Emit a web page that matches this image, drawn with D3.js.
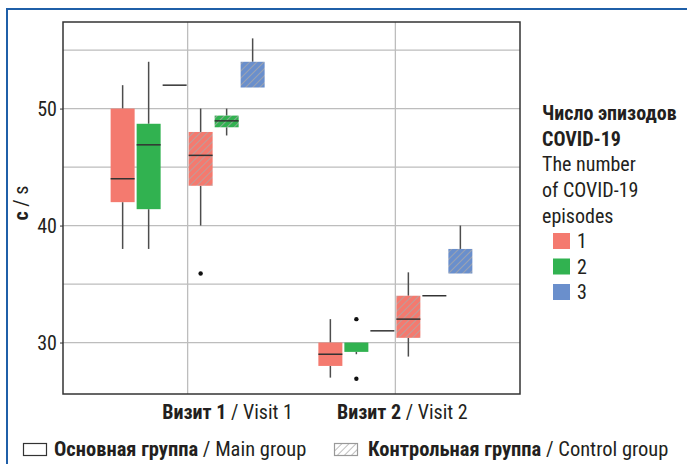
<!DOCTYPE html>
<html>
<head>
<meta charset="utf-8">
<script src="https://cdn.jsdelivr.net/npm/d3@7"></script>
<style>
  body { margin: 0; background: #fff; }
  svg text { font-family: "Roboto Condensed", "Liberation Sans", sans-serif; fill: #231f20; }
</style>
</head>
<body>
<div id="chart"></div>
<script>
// categories
const visitsRu = ["Визит 1", "Визит 2"];
const visitsEn = ["Visit 1", "Visit 2"];
const episodes = ["1", "2", "3"];
const groups = ["main", "control"];
// box order inside each visit: main 1,2,3 then control 1,2,3
const boxGroup = ["main", "main", "main", "control", "control", "control"];
const boxEpisode = ["1", "2", "3", "1", "2", "3"];

// box statistics, visit 1
const v1Low  = [38, 38, 52, 40, 47.7, 51.8];
const v1Q1   = [42, 41.4, 52, 43.4, 48.4, 51.8];
const v1Med  = [44, 46.9, 52, 46, 48.95, 51.8];
const v1Q3   = [50, 48.7, 52, 48, 49.4, 54];
const v1High = [52, 54, 52, 50, 50, 56];
const v1Out  = [[], [], [], [35.9], [], []];

// box statistics, visit 2
const v2Low  = [27, 29, 31, 28.8, 34, 35.9];
const v2Q1   = [28, 29.2, 31, 30.4, 34, 35.9];
const v2Med  = [29, 30, 31, 32, 34, 35.9];
const v2Q3   = [30, 30, 31, 34, 34, 38];
const v2High = [32, 30, 31, 36, 34, 40];
const v2Out  = [[], [32, 26.9], [], [], [], []];

// axis
const yTicks = [30, 40, 50];
const yGrid = [30, 35, 40, 45, 50, 55];
const yDomain = [25.6, 57.4];

const colors = { "1": "#f47a6f", "2": "#31b250", "3": "#6a8fcc" };

const width = 687, height = 464;
const margin = { left: 63, top: 22, right: 167, bottom: 70 };
const fs = "20px";

const svg = d3.select("#chart").append("svg")
    .attr("width", width)
    .attr("height", height);

const defs = svg.append("defs");
//hatch pattern for each colour, plus a white one for the legend key
function hatch(id, fill) {
    const p = defs.append("pattern")
        .attr("id", id)
        .attr("patternUnits", "userSpaceOnUse")
        .attr("width", 5).attr("height", 5)
        .attr("patternTransform", "rotate(45)");
    p.append("rect").attr("width", 5).attr("height", 5).attr("fill", fill);
    p.append("line").attr("x1", 0).attr("y1", 0).attr("x2", 0).attr("y2", 5)
        .attr("stroke", "#a9a9a9").attr("stroke-width", 1.5);
}
episodes.forEach(e => hatch("hatch" + e, colors[e]));
hatch("hatchKey", "#fff");

//blue frame of the figure
svg.append("path")
    .attr("d", "M7,464 L7,9 L687,9")
    .attr("fill", "none")
    .attr("stroke", "#1f5fa8")
    .attr("stroke-width", 2);

const x = d3.scalePoint()
    .domain(visitsEn)
    .range([margin.left, width - margin.right])
    .padding(0.6);

const slot = 26;
const dodge = d3.scaleLinear().domain([0, 5]).range([-2.5 * slot, 2.5 * slot]);
const boxW = 24;

const y = d3.scaleLinear()
    .domain(yDomain)
    .range([height - margin.bottom, margin.top]);

const plot = svg.append("g");

// grid
plot.selectAll(".hgrid").data(yGrid).enter().append("line")
    .attr("x1", margin.left).attr("x2", width - margin.right)
    .attr("y1", d => y(d)).attr("y2", d => y(d))
    .attr("stroke", "#bdbdbd").attr("stroke-width", 1.3);
plot.selectAll(".vgrid").data(visitsEn).enter().append("line")
    .attr("x1", d => x(d)).attr("x2", d => x(d))
    .attr("y1", margin.top).attr("y2", height - margin.bottom)
    .attr("stroke", "#bdbdbd").attr("stroke-width", 1.3);

// build box records from the arrays
const stats = [
    { visit: visitsEn[0], low: v1Low, q1: v1Q1, med: v1Med, q3: v1Q3, high: v1High, out: v1Out },
    { visit: visitsEn[1], low: v2Low, q1: v2Q1, med: v2Med, q3: v2Q3, high: v2High, out: v2Out }
];
const boxes = [];
stats.forEach(s => {
    boxGroup.forEach((g, i) => {
        boxes.push({
            visit: s.visit, group: g, episode: boxEpisode[i], i: i,
            low: s.low[i], q1: s.q1[i], med: s.med[i], q3: s.q3[i], high: s.high[i], out: s.out[i]
        });
    });
});

const bx = d => x(d.visit) + dodge(d.i);

const boxG = plot.selectAll(".box").data(boxes).enter().append("g");

// whiskers
boxG.append("line")
    .attr("x1", bx).attr("x2", bx)
    .attr("y1", d => y(d.high)).attr("y2", d => y(d.q3))
    .attr("stroke", "#4d4d4d").attr("stroke-width", 1.5);
boxG.append("line")
    .attr("x1", bx).attr("x2", bx)
    .attr("y1", d => y(d.q1)).attr("y2", d => y(d.low))
    .attr("stroke", "#4d4d4d").attr("stroke-width", 1.5);

// boxes
boxG.filter(d => d.q3 > d.q1).append("rect")
    .attr("x", d => bx(d) - boxW / 2)
    .attr("width", boxW)
    .attr("y", d => y(d.q3))
    .attr("height", d => y(d.q1) - y(d.q3))
    .attr("fill", d => d.group === "main" ? colors[d.episode] : "url(#hatch" + d.episode + ")");

// medians (only where they sit inside the box, or the box collapsed to a line)
boxG.filter(d => (d.med > d.q1 && d.med < d.q3) || d.q1 === d.q3).append("line")
    .attr("x1", d => bx(d) - boxW / 2).attr("x2", d => bx(d) + boxW / 2)
    .attr("y1", d => y(d.med)).attr("y2", d => y(d.med))
    .attr("stroke", "#333").attr("stroke-width", 1.5);

// outliers
boxG.selectAll("circle").data(d => d.out.map(v => ({ v: v, d: d }))).enter().append("circle")
    .attr("cx", o => bx(o.d))
    .attr("cy", o => y(o.v))
    .attr("r", 2.2)
    .attr("fill", "#111");

// frame
plot.append("rect")
    .attr("x", margin.left).attr("y", margin.top)
    .attr("width", width - margin.right - margin.left)
    .attr("height", height - margin.bottom - margin.top)
    .attr("fill", "none").attr("stroke", "#333").attr("stroke-width", 1.5);

// y axis
const yAxis = svg.append("g")
    .attr("transform", "translate(" + margin.left + ",0)")
    .call(d3.axisLeft(y).tickValues(yTicks).tickSize(3).tickPadding(3));
yAxis.select(".domain").remove();
yAxis.selectAll("line").attr("stroke", "#333");
yAxis.selectAll("text").style("font-size", fs).attr("dy", "0.36em");

// y title
const yt = svg.append("text")
    .attr("transform", "translate(28,203) rotate(-90)")
    .attr("text-anchor", "middle")
    .style("font-size", fs);
yt.append("tspan").attr("font-weight", "bold").text("c");
yt.append("tspan").text(" / s");

// x labels
const labelShift = [40, 7];
visitsEn.forEach((v, i) => {
    const t = svg.append("text")
        .attr("x", x(v) + labelShift[i])
        .attr("y", 419)
        .attr("text-anchor", "middle")
        .style("font-size", fs);
    t.append("tspan").attr("font-weight", "bold").text(visitsRu[i]);
    t.append("tspan").text(" / " + v);
});

// episodes legend
const lx = 542;
const titleLines = [
    { t: "Число эпизодов", b: true },
    { t: "COVID-19", b: true },
    { t: "The number", b: false },
    { t: "of COVID-19", b: false },
    { t: "episodes", b: false }
];
svg.selectAll(".lt").data(titleLines).enter().append("text")
    .attr("x", lx)
    .attr("y", (d, i) => 120 + i * 25.7)
    .attr("font-weight", d => d.b ? "bold" : "normal")
    .style("font-size", fs)
    .text(d => d.t);

const leg = svg.selectAll(".leg").data(episodes).enter().append("g")
    .attr("transform", (d, i) => "translate(553," + (233 + i * 25.5) + ")");
leg.append("rect").attr("width", 17).attr("height", 16).attr("fill", d => colors[d]);
leg.append("text").attr("x", 24).attr("y", 15).style("font-size", fs).text(d => d);

// group legend
const groupRu = ["Основная группа", "Контрольная группа"];
const groupEn = ["Main group", "Control group"];
const gx = [23, 334];
const gTextGap = [31, 34];
groups.forEach((g, i) => {
    svg.append("rect")
        .attr("x", gx[i] + 0.5).attr("y", 443.5)
        .attr("width", 23).attr("height", 12)
        .attr("fill", g === "main" ? "#fff" : "url(#hatchKey)")
        .attr("stroke", g === "main" ? "#333" : "#999")
        .attr("stroke-width", 1.2);
    const t = svg.append("text")
        .attr("x", gx[i] + gTextGap[i]).attr("y", 456)
        .style("font-size", "20.5px");
    t.append("tspan").attr("font-weight", "bold").text(groupRu[i]);
    t.append("tspan").text(" / " + groupEn[i]);
});
</script>
</body>
</html>
